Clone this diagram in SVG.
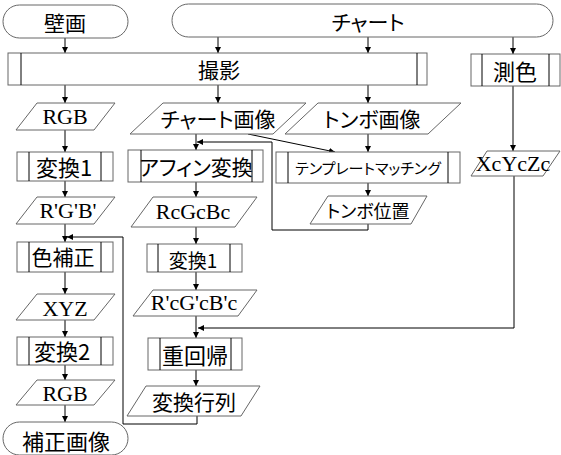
<svg xmlns="http://www.w3.org/2000/svg" width="561" height="455" viewBox="0 0 561 455">
<defs>
<marker id="ah" markerUnits="userSpaceOnUse" markerWidth="6" markerHeight="6" refX="6" refY="3" orient="auto">
<path d="M0,0 L6,3 L0,6 z" fill="#000"/>
</marker>
<style>
.s{fill:#fff;stroke:#666;stroke-width:1}
.in{stroke:#000;stroke-width:1}
.c{fill:none;stroke:#000;stroke-width:1;marker-end:url(#ah)}
.j{font-family:"Noto Sans CJK JP","Noto Sans",sans-serif;font-size:21px;text-anchor:middle;fill:#000;font-feature-settings:"palt"}
.r{font-family:"Liberation Serif","Times New Roman",serif;font-size:22px;text-anchor:middle;fill:#000}
</style>
</defs>
<rect width="561" height="455" fill="#fff"/>
<g id="connectors">
<path class="c" d="M65,38 V53"/>
<path class="c" d="M218,37 V53"/>
<path class="c" d="M368,37 V53"/>
<path class="c" d="M513,37 V54"/>
<path class="c" d="M65,85 V103"/>
<path class="c" d="M218,85 V103"/>
<path class="c" d="M368,85 V103"/>
<path class="c" d="M513,86 V151"/>
<path class="c" d="M65,130 V152"/>
<path class="c" d="M65,181 V197"/>
<path class="c" d="M65,224 V242"/>
<path class="c" d="M65,272 V294"/>
<path class="c" d="M65,320 V337"/>
<path class="c" d="M65,365 V380"/>
<path class="c" d="M65,405 V422"/>
<path class="c" d="M196,134 V150"/>
<path class="c" d="M248,134 L335,152"/>
<path class="c" d="M368,134 V152"/>
<path class="c" d="M368,183 V196"/>
<path class="c" d="M196,182 V197"/>
<path class="c" d="M196,227 V244"/>
<path class="c" d="M196,272 V290"/>
<path class="c" d="M196,316 V338"/>
<path class="c" d="M196,370 V386"/>
<path class="c" d="M368,224 V230 H272 V142 H197"/>
<path class="c" d="M197,416 V424 H123 V237 H67"/>
<path class="c" d="M514,176 V328 H198"/>
</g>
<g id="n-hekiga"><rect class="s" x="3" y="5" width="125" height="33" rx="16.5"/><text class="j" x="65" y="31">壁画</text></g>
<g id="n-chart"><rect class="s" x="172" y="4" width="381" height="33" rx="16.5"/><text class="j" x="368" y="30">チャート</text></g>
<g id="n-satsuei"><rect class="s" x="8" y="53" width="419" height="32"/><line class="in" x1="21" y1="53" x2="21" y2="85"/><line class="in" x1="417" y1="53" x2="417" y2="85"/><text class="j" x="219" y="78">撮影</text></g>
<g id="n-sokushoku"><rect class="s" x="471" y="54" width="89" height="32"/><line class="in" x1="482" y1="54" x2="482" y2="86"/><line class="in" x1="549" y1="54" x2="549" y2="86"/><text class="j" x="515" y="80" style="font-size:22px">測色</text></g>
<g id="n-rgb1"><polygon class="s" points="37,103 115,103 94,130 16,130"/><text class="r" x="65" y="124">RGB</text></g>
<g id="n-chartimg"><polygon class="s" points="163,103 306,103 273,134 130,134"/><text class="j" x="218" y="127">チャート画像</text></g>
<g id="n-tonboimg"><polygon class="s" points="318,103 461,103 428,134 285,134"/><text class="j" x="372" y="127">トンボ画像</text></g>
<g id="n-xcyczc"><polygon class="s" points="487,151 560,151 543,176 471,176"/><text class="r" x="513" y="171">XcYcZc</text></g>
<g id="n-henkan1a"><rect class="s" x="17" y="152" width="96" height="29"/><line class="in" x1="29" y1="152" x2="29" y2="181"/><line class="in" x1="101" y1="152" x2="101" y2="181"/><text class="j" x="64" y="176" style="font-size:22px">変換1</text></g>
<g id="n-rgbp"><polygon class="s" points="37,197 115,197 94,224 16,224"/><text class="r" x="68" y="218">R'G'B'</text></g>
<g id="n-iroho"><rect class="s" x="17" y="242" width="96" height="30"/><line class="in" x1="29" y1="242" x2="29" y2="272"/><line class="in" x1="101" y1="242" x2="101" y2="272"/><text class="j" x="63" y="265">色補正</text></g>
<g id="n-xyz"><polygon class="s" points="37,294 115,294 94,320 16,320"/><text class="r" x="65" y="316">XYZ</text></g>
<g id="n-henkan2"><rect class="s" x="17" y="337" width="96" height="28"/><line class="in" x1="29" y1="337" x2="29" y2="365"/><line class="in" x1="101" y1="337" x2="101" y2="365"/><text class="j" x="62" y="360" style="font-size:22px">変換2</text></g>
<g id="n-rgb2"><polygon class="s" points="37,380 115,380 94,405 16,405"/><text class="r" x="65" y="401">RGB</text></g>
<g id="n-hoseigazo"><rect class="s" x="3" y="422" width="125" height="33" rx="16.5"/><text class="j" x="66" y="450" style="font-size:22px">補正画像</text></g>
<g id="n-affine"><rect class="s" x="128" y="150" width="135" height="32"/><line class="in" x1="141" y1="150" x2="141" y2="182"/><line class="in" x1="252" y1="150" x2="252" y2="182"/><text class="j" x="196" y="175">アフィン変換</text></g>
<g id="n-rcgcbc"><polygon class="s" points="153,197 257,197 235,227 131,227"/><text class="r" x="193" y="219">RcGcBc</text></g>
<g id="n-henkan1b"><rect class="s" x="147" y="244" width="95" height="28"/><line class="in" x1="158" y1="244" x2="158" y2="272"/><line class="in" x1="230" y1="244" x2="230" y2="272"/><text class="j" x="193" y="268" style="font-size:19px">変換1</text></g>
<g id="n-rcgcbcp"><polygon class="s" points="153,290 257,290 238,316 133,316"/><text class="r" x="194" y="310">R'cG'cB'c</text></g>
<g id="n-juukaiki"><rect class="s" x="148" y="338" width="94" height="32"/><line class="in" x1="160" y1="338" x2="160" y2="370"/><line class="in" x1="231" y1="338" x2="231" y2="370"/><text class="j" x="195" y="364" style="font-size:22px">重回帰</text></g>
<g id="n-henkangyoretsu"><polygon class="s" points="146,386 260,386 241,416 127,416"/><text class="j" x="194" y="410">変換行列</text></g>
<g id="n-template"><rect class="s" x="276" y="152" width="184" height="31"/><line class="in" x1="288" y1="152" x2="288" y2="183"/><line class="in" x1="448" y1="152" x2="448" y2="183"/><text class="j" x="368" y="174" style="font-size:15px">テンプレートマッチング</text></g>
<g id="n-tonboichi"><polygon class="s" points="328,196 427,196 411,224 310,224"/><text class="j" x="368" y="218" style="font-size:18px">トンボ位置</text></g>
</svg>
